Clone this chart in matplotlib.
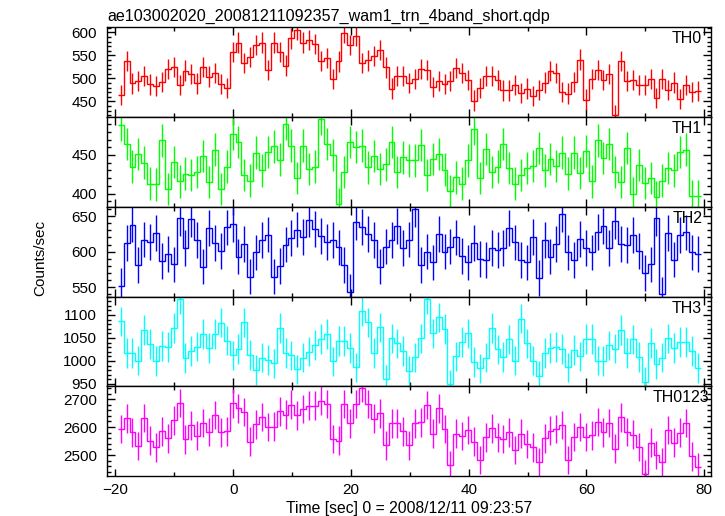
import numpy as np
import matplotlib.pyplot as plt
from matplotlib.ticker import MultipleLocator

plt.rcParams['font.family'] = ['Liberation Sans', 'DejaVu Sans']
plt.rcParams['font.size'] = 11

title = "ae103002020_20081211092357_wam1_trn_4band_short.qdp"

# 1 s bins, first bin starts at t = -19.6 s
t_start = -19.6
bin_width = 1.0

th0 = [464, 538, 489, 494, 506, 487, 484, 493, 521, 525,
       485, 517, 510, 489, 525, 504, 512, 488, 480, 557,
       578, 533, 546, 573, 578, 518, 578, 557, 528, 587,
       606, 578, 583, 574, 538, 544, 499, 537, 599, 573,
       593, 533, 539, 549, 562, 524, 478, 506, 506, 490,
       499, 520, 519, 482, 495, 488, 494, 522, 512, 496,
       452, 479, 506, 506, 497, 474, 474, 486, 469, 478,
       462, 475, 491, 516, 512, 470, 467, 492, 541, 454,
       499, 519, 497, 510, 420, 538, 494, 497, 486, 486,
       499, 458, 498, 475, 491, 456, 486, 470, 473]

th1 = [489, 464, 435, 451, 440, 413, 412, 469, 406, 441,
       416, 426, 424, 428, 449, 415, 457, 406, 435, 477,
       467, 424, 417, 453, 430, 454, 461, 444, 490, 462,
       420, 462, 432, 435, 497, 464, 450, 386, 428, 467,
       460, 462, 434, 449, 432, 438, 467, 428, 447, 443,
       443, 463, 424, 445, 451, 431, 403, 421, 413, 443,
       484, 420, 458, 428, 435, 464, 433, 413, 424, 433,
       436, 459, 430, 445, 436, 453, 426, 453, 427, 455,
       416, 469, 446, 464, 428, 415, 459, 400, 437, 414,
       420, 396, 417, 433, 430, 454, 457, 397, 397]

th2 = [552, 612, 638, 581, 617, 614, 626, 587, 597, 582,
       647, 605, 646, 616, 579, 633, 612, 601, 634, 639,
       593, 611, 565, 599, 616, 624, 565, 580, 610, 619,
       631, 621, 645, 632, 622, 614, 616, 606, 581, 544,
       642, 635, 625, 616, 579, 607, 616, 636, 605, 617,
       660, 581, 600, 585, 625, 600, 607, 620, 594, 585,
       612, 590, 588, 605, 602, 605, 633, 613, 588, 585,
       621, 563, 616, 593, 611, 653, 599, 588, 618, 605,
       599, 628, 636, 605, 643, 611, 609, 623, 601, 570,
       582, 647, 540, 626, 589, 623, 627, 599, 597]

th3 = [1086, 1017, 1017, 1001, 1067, 1037, 1000, 1033, 1030, 1072,
       1134, 1006, 1022, 1031, 1059, 1028, 1059, 1083, 1044, 1012,
       1026, 1084, 1013, 980, 1007, 1002, 995, 1072, 1017, 1012,
       982, 1007, 1020, 1035, 1048, 1059, 999, 1043, 1043, 1028,
       986, 1108, 1084, 1017, 1073, 960, 1049, 1038, 1022, 978,
       1008, 1049, 1134, 1060, 1095, 1069, 949, 1010, 1041, 1060,
       998, 984, 1007, 1072, 1025, 1009, 1047, 1001, 1092, 1038,
       1001, 968, 1017, 1028, 1030, 1026, 986, 1024, 1010, 1048,
       1048, 1001, 1000, 1034, 1027, 1067, 1017, 1047, 1009, 955,
       1039, 993, 1007, 1049, 1028, 1041, 1041, 1022, 985]

th0123 = [2594, 2631, 2581, 2533, 2632, 2552, 2527, 2585, 2560, 2624,
          2686, 2556, 2606, 2569, 2614, 2583, 2643, 2581, 2585, 2685,
          2667, 2654, 2548, 2610, 2636, 2601, 2602, 2656, 2645, 2680,
          2642, 2665, 2677, 2677, 2695, 2683, 2558, 2552, 2683, 2613,
          2682, 2739, 2682, 2630, 2649, 2535, 2613, 2613, 2585, 2535,
          2613, 2617, 2679, 2577, 2667, 2594, 2463, 2577, 2568, 2589,
          2548, 2482, 2563, 2595, 2563, 2557, 2581, 2518, 2577, 2539,
          2527, 2475, 2560, 2587, 2593, 2608, 2483, 2564, 2600, 2565,
          2570, 2619, 2581, 2614, 2523, 2635, 2583, 2573, 2529, 2431,
          2544, 2501, 2474, 2589, 2544, 2580, 2614, 2495, 2458]

series = [th0, th1, th2, th3, th0123]
errors = [22, 21, 25, 32, 51]
names = ["TH0", "TH1", "TH2", "TH3", "TH0123"]
colors = ["#ff0000", "#00ff00", "#0000ff", "#00ffff", "#ff00ff"]
ylims = [(416, 611), (383, 499), (537, 663), (945, 1140), (2425, 2746)]
major = [50, 50, 50, 50, 100]
minor = [10, 10, 10, 10, 20]
label_x = [0.985, 0.985, 0.985, 0.985, 0.997]

fig, axes = plt.subplots(5, 1, sharex=True, figsize=(7.25, 5.16), dpi=100)
fig.subplots_adjust(left=0.147, right=0.981, bottom=0.0775, top=0.947, hspace=0)

for ax, y, e, name, c, yl, mj, mn, lx in zip(axes, series, errors, names, colors,
                                              ylims, major, minor, label_x):
    y = np.array(y)
    edges = t_start + bin_width * np.arange(len(y) + 1)
    centers = edges[:-1] + bin_width / 2
    ax.stairs(y, edges, baseline=None, color=c, lw=1)
    ax.errorbar(centers, y, yerr=e, fmt='none', ecolor=c, elinewidth=1)
    ax.set_ylim(*yl)
    ax.yaxis.set_major_locator(MultipleLocator(mj))
    ax.yaxis.set_minor_locator(MultipleLocator(mn))
    ax.xaxis.set_major_locator(MultipleLocator(20))
    ax.xaxis.set_minor_locator(MultipleLocator(10))
    ax.tick_params(which='both', direction='in', top=True, right=True, width=1)
    ax.tick_params(which='major', length=6, pad=7)
    ax.tick_params(which='minor', length=3)
    ax.text(lx, 0.955, name, transform=ax.transAxes, ha='right', va='top', fontsize=11.5)
    for s in ax.spines.values():
        s.set_linewidth(1)

axes[-1].set_xlim(-21.5, 81.2)
axes[-1].tick_params(axis='x', which='major', length=5, pad=5)
axes[-1].set_xlabel("Time [sec] 0 = 2008/12/11 09:23:57", labelpad=3, fontsize=11.3)
fig.text(0.055, 0.5, "Counts/sec", rotation=90, va='center', ha='center', fontsize=11)
fig.text(0.1486, 0.96, title, ha='left', va='baseline', fontsize=11.6)

plt.savefig("out.png", dpi=100)
